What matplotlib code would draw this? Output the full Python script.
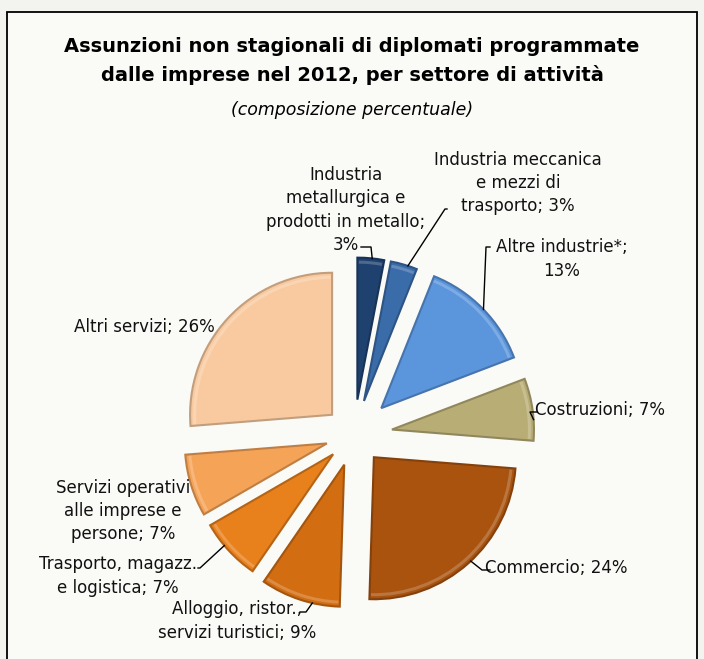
import numpy as np
import matplotlib.pyplot as plt
import matplotlib.colors as mcolors
from matplotlib.patches import Rectangle, Wedge

# data (clockwise from 12 o'clock)
labels = [
    "Industria\nmetallurgica e\nprodotti in metallo;\n3%",
    "Industria meccanica\ne mezzi di\ntrasporto; 3%",
    "Altre industrie*;\n13%",
    "Costruzioni; 7%",
    "Commercio; 24%",
    "Alloggio, ristor.,\nservizi turistici; 9%",
    "Trasporto, magazz.\ne logistica; 7%",
    "Servizi operativi\nalle imprese e\npersone; 7%",
    "Altri servizi; 26%",
]
values = [3, 3, 13, 7, 24, 9, 7, 7, 26]
colors = ["#1f416f", "#3a6ca9", "#5b95dc", "#b9ad76", "#a9530f",
          "#d26d12", "#e8801c", "#f5a357", "#f9caa0"]
explode = [0.25, 0.25, 0.27, 0.27, 0.21, 0.22, 0.20, 0.20, 0.21]

W, H = 704, 659
def py(y):
    return H - y

fig = plt.figure(figsize=(7.04, 6.59), dpi=100, facecolor="#f3f3ef")
ax = fig.add_axes([0, 0, 1, 1])

# chart frame
ax.add_patch(Rectangle((7, -10), 690, py(12) + 10, facecolor="#fafaf7",
                       edgecolor="black", lw=1.3, zorder=0))

cx, cy, R = 354, py(435), 142
# pie explode is in data units, so scale by the radius
wedges, _ = ax.pie(values, explode=[e * R for e in explode], colors=colors,
                   startangle=90, counterclock=False, center=(cx, cy),
                   radius=R, wedgeprops=dict(linewidth=1.5))
for w, c in zip(wedges, colors):
    rgb = np.array(mcolors.to_rgb(c))
    w.set_edgecolor(tuple(rgb * 0.78))
    w.set_zorder(2)
    # soft bevel highlight just inside the rim
    hi = tuple(rgb + (1 - rgb) * 0.35)
    ax.add_patch(Wedge(w.center, R - 3, w.theta1 + 0.6, w.theta2 - 0.6,
                       width=3, facecolor=hi, edgecolor="none", alpha=0.6,
                       zorder=3))

ax.set_xlim(0, W)
ax.set_ylim(0, H)
ax.set_aspect("auto")
ax.axis("off")

fs = 12
lab_pos = [(346, 210), (518, 183), (562, 259), (600, 410), (556, 568),
           (237, 621), (118, 576), (123, 511), (144, 327)]
for lab, (x, y) in zip(labels, lab_pos):
    ax.text(x, py(y), lab, ha="center", va="center", fontsize=fs,
            linespacing=1.38, color="#111111")

def arc_point(i, ang):
    c = np.array(wedges[i].center)
    a = np.deg2rad(ang)
    return c + R * np.array([np.cos(a), np.sin(a)])

# leader lines: wedge index, label anchor, elbow, angle on wedge arc
leaders = [
    (0, (361, 247), (371, 247), 84),
    (1, (447, 209), (445, 209), 72),
    (2, (490, 247), (486, 247), 44),
    (3, (537, 412), (530, 412), 4),
    (4, (490, 570), (482, 570), -47),
    (5, (300, 612), (306, 612), -103),
    (6, (198, 568), (200, 568), -140),
]
for i, a0, a1, ang in leaders:
    p = arc_point(i, ang)
    ax.plot([a0[0], a1[0], p[0]], [py(a0[1]), py(a1[1]), p[1]],
            color="black", lw=1, zorder=4)

fig.text(0.5, py(61) / H, "Assunzioni non stagionali di diplomati programmate\n"
         "dalle imprese nel 2012, per settore di attività",
         ha="center", va="center", fontsize=14, fontweight="bold",
         linespacing=1.55)
fig.text(0.5, py(110) / H, "(composizione percentuale)", ha="center",
         va="center", fontsize=12.5, style="italic")

fig.savefig("out.png", dpi=100, facecolor=fig.get_facecolor())
